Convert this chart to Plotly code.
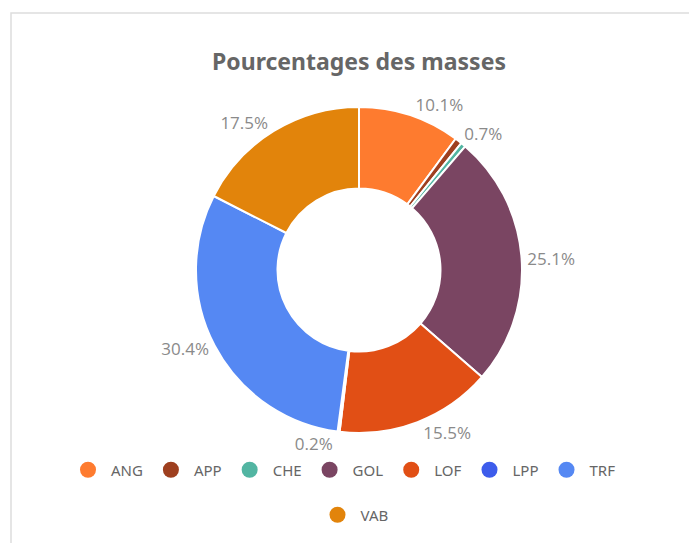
import plotly.graph_objects as go

categories = ["ANG", "APP", "CHE", "GOL", "LOF", "LPP", "TRF", "VAB"]
values = [10.1, 0.7, 0.5, 25.1, 15.5, 0.2, 30.4, 17.5]
colors = ["#FE7B2F", "#9E3F1F", "#52B5A2", "#7A4562", "#E14F15", "#3D5CEB", "#5588F3", "#E2840B"]
show_label = [True, True, False, True, True, True, True, True]

OFF = 8  # page body margin
W, H = 697 - OFF, 543 - OFF
cx, cy, R = 359 - OFF, 270 - OFF, 163


def py(y):
    return 1 - (y - OFF) / H


def px(x):
    return (x - OFF) / W


fig = go.Figure()
fig.add_trace(go.Pie(
    labels=categories, values=values, sort=False, direction="clockwise", rotation=0,
    hole=0.5,
    marker=dict(colors=colors, line=dict(color="white", width=2)),
    texttemplate=["%{value:.1f}%" if s else "" for s in show_label],
    textposition="outside",
    outsidetextfont=dict(size=17, color="#8a8a8a", family="Open Sans"),
    showlegend=False, hoverinfo="label+percent",
    domain=dict(x=[(cx - R) / W, (cx + R) / W], y=[1 - (cy + R) / H, 1 - (cy - R) / H]),
    automargin=False,
))

for i, (c, col) in enumerate(zip(categories, colors)):
    fig.add_trace(go.Scatter(
        x=[None], y=[None], mode="markers", name=c,
        marker=dict(symbol="circle", size=16, color=col),
        showlegend=True,
        legend="legend" if i < 7 else "legend2",
    ))

legend_font = dict(size=15, color="#666666", family="Noto Sans")
fig.update_layout(
    width=W, height=H,
    margin=dict(l=0, r=0, t=0, b=0),
    paper_bgcolor="white", plot_bgcolor="white",
    title=dict(text="<b>Pourcentages des masses</b>", x=px(359), xanchor="center",
               y=py(62), yanchor="middle",
               font=dict(size=23, color="#666666", family="Noto Sans")),
    xaxis=dict(visible=False), yaxis=dict(visible=False),
    legend=dict(orientation="h", x=px(343), xanchor="center", y=py(470), yanchor="middle",
                font=legend_font, itemwidth=36),
    legend2=dict(orientation="h", x=px(354), xanchor="center", y=py(515), yanchor="middle",
                 font=legend_font, itemwidth=36),
    shapes=[dict(type="rect", xref="paper", yref="paper",
                 x0=px(11), x1=1.02, y0=-0.02, y1=py(13),
                 line=dict(color="#dddddd", width=1.5), layer="below")],
)

fig.write_html("out.html")
